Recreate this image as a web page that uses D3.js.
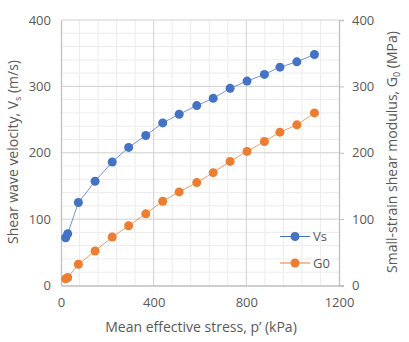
<!DOCTYPE html>
<html><head><meta charset="utf-8">
<script src="https://cdn.jsdelivr.net/npm/d3@7"></script>
<style>body{margin:0;background:#fff}text{font-family:"Open Sans",sans-serif;fill:#595959}</style>
</head><body>
<svg id="c" width="409" height="342"></svg>
<script>
const pressure = [20, 29, 75, 147, 221, 292, 366, 439, 510, 586, 657, 730, 803, 878, 945, 1018, 1094];
const vsValues = [72, 78, 125, 157, 186, 208, 226, 245, 258, 271, 282, 297, 308, 318, 329, 337, 348];
const g0Values = [10, 12, 32, 52, 73, 90, 108, 127, 141, 155, 170, 187, 202, 217, 231, 242, 260];
const xTicks = [0, 400, 800, 1200];
const yTicks = [0, 100, 200, 300, 400];
const seriesNames = ["Vs", "G0"];
const colors = ["#4472C4", "#ED7D31"];

const svg = d3.select("#c");
const L = 61, R = 339, T = 20, B = 285.5;
const x = d3.scaleLinear().domain([0, 1200]).range([L, R]);
const yL = d3.scaleLinear().domain([0, 400]).range([B, T]);
const yR = d3.scaleLinear().domain([0, 400]).range([B, T]);
const fmt = d3.format("d");

// minor grid
const g = svg.append("g");
d3.range(0, 1201, 80).forEach(v => { if (v % 400) g.append("line").attr("x1", x(v)).attr("x2", x(v)).attr("y1", T).attr("y2", B).attr("stroke", "#ececec").attr("stroke-width", 1); });
d3.range(0, 401, 20).forEach(v => { if (v % 100) g.append("line").attr("y1", yL(v)).attr("y2", yL(v)).attr("x1", L).attr("x2", R).attr("stroke", "#ececec").attr("stroke-width", 1); });
// major grid
xTicks.forEach(v => { if (v > 0 && v < 1200) g.append("line").attr("x1", x(v)).attr("x2", x(v)).attr("y1", T).attr("y2", B).attr("stroke", "#d0d0d0"); });
yTicks.forEach(v => { if (v > 0) g.append("line").attr("y1", yL(v)).attr("y2", yL(v)).attr("x1", L).attr("x2", R).attr("stroke", "#d0d0d0"); });

// axes
const axB = svg.append("g").attr("transform", `translate(0,${B})`).call(d3.axisBottom(x).tickValues(xTicks).tickFormat(fmt).tickSize(0).tickPadding(12));
const axL = svg.append("g").attr("transform", `translate(${L},0)`).call(d3.axisLeft(yL).tickValues(yTicks).tickFormat(fmt).tickSize(0).tickPadding(10));
const axR = svg.append("g").attr("transform", `translate(${R},0)`).call(d3.axisRight(yR).tickValues(yTicks).tickFormat(fmt).tickSize(5).tickPadding(8));
[axB, axL, axR].forEach(a => {
  a.select(".domain").attr("stroke", "#bfbfbf").attr("stroke-width", 1.3);
  a.selectAll(".tick line").attr("stroke", "#bfbfbf");
  a.selectAll("text").style("font-size", "13px").attr("fill", "#595959").style("font-family", "Open Sans");
});
axB.append("line").attr("x1", R).attr("x2", R + 5).attr("y1", 0).attr("y2", 0).attr("stroke", "#bfbfbf");

// series
const data = [vsValues, g0Values];
data.forEach((vals, i) => {
  const pts = pressure.map((p, j) => [p, vals[j]]);
  const yy = i === 0 ? yL : yR;
  svg.append("path").datum(pts).attr("fill", "none").attr("stroke", colors[i]).attr("stroke-width", 1).attr("opacity", 0.75)
    .attr("d", d3.line().x(d => x(d[0])).y(d => yy(d[1])));
  svg.append("g").selectAll("circle").data(pts).join("circle")
    .attr("cx", d => x(d[0])).attr("cy", d => yy(d[1])).attr("r", 4.5).attr("fill", colors[i]);
});

// legend
seriesNames.forEach((n, i) => {
  const yy = 236.5 + i * 26.5;
  svg.append("line").attr("x1", 280).attr("x2", 310).attr("y1", yy).attr("y2", yy).attr("stroke", colors[i]).attr("stroke-width", 1);
  svg.append("circle").attr("cx", 295).attr("cy", yy).attr("r", 4.5).attr("fill", colors[i]);
  svg.append("text").attr("x", 313).attr("y", yy + 4.5).style("font-size", "13px").text(n);
});

// titles
svg.append("text").attr("x", (L + R) / 2 + 1).attr("y", 332).attr("text-anchor", "middle").style("font-size", "14px")
  .text("Mean effective stress, p’ (kPa)");
const tl = svg.append("text").attr("transform", "translate(18,152) rotate(-90)").attr("text-anchor", "middle").style("font-size", "14px");
tl.append("tspan").text("Shear wave velocity, V");
tl.append("tspan").attr("dy", 3).style("font-size", "9px").text("s");
tl.append("tspan").attr("dy", -3).text(" (m/s)");
const tr = svg.append("text").attr("transform", "translate(397,152) rotate(-90)").attr("text-anchor", "middle").style("font-size", "14px");
tr.append("tspan").text("Small-strain shear modulus, G");
tr.append("tspan").attr("dy", 3).style("font-size", "9px").text("0");
tr.append("tspan").attr("dy", -3).text(" (MPa)");
</script>
</body></html>
